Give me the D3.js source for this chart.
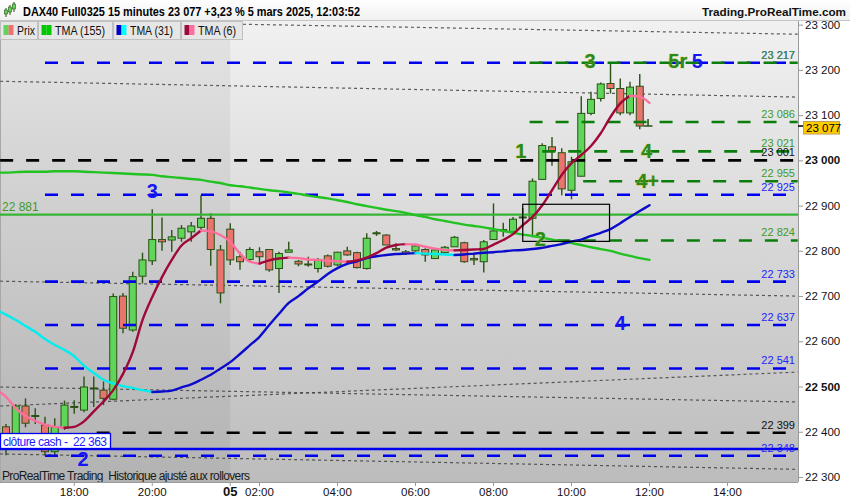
<!DOCTYPE html>
<html>
<head>
<meta charset="utf-8">
<script src="https://cdn.jsdelivr.net/npm/d3@7/dist/d3.min.js"></script>
<style>
  body { margin: 0; background: #fff; }
  svg { display: block; font-family: "Liberation Sans", Arial, sans-serif; }
</style>
</head>
<body>
<svg id="chart" width="850" height="500"></svg>
<script>
// --- données (15 min, index 0 = 4 mars 16:15) ---
const opens  = [22412,22382,22458,22437,22416,22357,22409,22457,22449,22497,22493,22473,22701,22626,22745,22779,22826,22825,22829,22843,22853,22873,22803,22849,22788,22782,22799,22804,22762,22798,22778,22772,22762,22790,22770,22801,22797,22762,22839,22836,22806,22799,22801,22804,22784,22797,22810,22819,22784,22777,22826,22846,22843,22874,22873,22959,23031,23018,22935,22966,23105,23138,23171,23160,23106,23165];
const highs  = [22418,22462,22475,22453,22434,22431,22470,22471,22523,22523,22512,22707,22708,22755,22797,22893,22875,22847,22858,22865,22924,22884,22814,22862,22799,22809,22809,22805,22799,22821,22781,22788,22785,22793,22799,22810,22799,22840,22845,22838,22818,22803,22814,22807,22805,22812,22834,22821,22797,22825,22906,22863,22876,22896,22961,23039,23053,23028,23009,23143,23153,23173,23217,23182,23175,23192];
const lows   = [22349,22375,22411,22418,22349,22350,22405,22441,22444,22456,22460,22471,22619,22622,22729,22770,22801,22799,22821,22821,22849,22768,22685,22770,22759,22779,22773,22755,22708,22798,22767,22766,22753,22764,22767,22790,22762,22760,22834,22814,22801,22792,22799,22777,22784,22795,22810,22775,22770,22753,22826,22832,22841,22854,22831,22958,22989,22924,22915,22966,23101,23131,23149,23101,23101,23070];
const closes = [22380,22458,22420,22436,22357,22412,22460,22455,22500,22498,22475,22700,22630,22744,22781,22826,22821,22832,22851,22856,22873,22804,22708,22781,22777,22804,22788,22759,22795,22803,22772,22771,22782,22767,22798,22792,22764,22829,22841,22814,22803,22795,22812,22792,22803,22809,22831,22777,22781,22821,22845,22848,22871,22876,22955,23034,23022,22938,22998,23105,23136,23170,23160,23106,23163,23077];

// moyennes mobiles, premier point = index -1
const maStart = -1;
const tma155 = [22974,22974,22975,22976,22976,22976,22977,22977,22977,22976,22975,22974,22973,22972,22971,22970,22969,22966,22964,22962,22960,22958,22954,22951,22946,22944,22941,22938,22935,22933,22930,22927,22923,22920,22917,22913,22909,22904,22900,22896,22892,22889,22885,22880,22876,22871,22867,22863,22859,22856,22853,22849,22845,22841,22837,22834,22830,22826,22822,22818,22814,22809,22805,22801,22795,22790,22785,22781];
const tma31  = [22671,22660,22648,22635,22622,22606,22593,22582,22568,22547,22531,22516,22508,22502,22498,22493,22489,22490,22492,22499,22506,22516,22527,22541,22555,22573,22592,22611,22637,22662,22686,22701,22718,22733,22750,22763,22772,22778,22785,22789,22792,22794,22795,22796,22795,22794,22793,22792,22793,22795,22797,22798,22800,22802,22803,22805,22808,22812,22816,22822,22826,22834,22841,22849,22862,22876,22889,22902];
const tma6   = [22494,22478,22453,22436,22425,22417,22412,22410,22412,22424,22446,22468,22493,22529,22577,22648,22699,22743,22781,22813,22829,22846,22844,22836,22821,22795,22777,22773,22780,22784,22786,22785,22782,22781,22779,22778,22777,22780,22786,22796,22808,22814,22816,22815,22810,22806,22803,22802,22803,22804,22805,22815,22825,22838,22858,22876,22902,22935,22969,22995,23013,23033,23061,23097,23127,23144,23142,23128];

// axe du temps
const timeTicks  = [7, 15, 23, 26, 34, 42, 50, 58, 66, 74];
const timeLabels = ["18:00","20:00","05","02:00","04:00","06:00","08:00","10:00","12:00","14:00"];
const sessionBreak = 23;

// axe des prix
const priceTicks = [22300,22400,22500,22600,22700,22800,22900,23000,23100,23200,23300];
const lastPrice = 23077;

// niveaux horizontaux
const blueLevels  = [23217, 22925, 22733, 22637, 22541, 22348];
const greenLevels = [23217, 23086, 23021, 22955, 22824];
const greenStarts = [53.7, 53.7, 55, 59.2, 56.5];
const blackLevels = [23001, 22399];
const blackStarts = [-0.6, 9.3];
const greenSolid = 22881;
const cashClose = 22363;

// lignes de tendance (index, prix)
const trendFromIdx   = [24.3, -0.6, -0.6, -0.6, -0.6, -0.6];
const trendFromPrice = [23302, 23176, 22734, 22458, 22500, 22352];
const trendToIdx     = [81.2, 81.2, 81.2, 81.2, 81.2, 81.2];
const trendToPrice   = [23280, 23141, 22701, 22533, 22467, 22318];

// annotations
const noteTexts  = ["3", "2", "4", "3", "5r", "5", "1", "4", "4+", "2"];
const noteIdx    = [15, 7.9, 63, 59.9, 68.9, 70.9, 52.8, 65.7, 65.8, 54.8];
const notePrices = [22933, 22341, 22642, 23221, 23221, 23221, 23022, 23022, 22955, 22828];
const noteKinds  = ["b", "b", "b", "g", "g", "b", "g", "g", "g", "g"];

// rectangle
const boxIdx = [53.0, 61.9];
const boxPrices = [22904, 22822];

// --- couleurs ---
const upFill = "#5fd65a", downFill = "#e9736d", candleLine = "#2b5215";
const blueC = "#0000f0", greenDash = "#0a7d0a", greenTxt = "#2a8a1c";

const svg = d3.select("#chart");
const fmt = v => d3.format(",")(v).replace(/,/g, " ");

const plot = { left: 0, right: 798, top: 21, bottom: 482 };
const x = d3.scaleLinear().domain([0, 80]).range([6, 786]);
const y = d3.scaleLinear().domain([22290, 23307]).range([482, 22]);

const defs = svg.append("defs");
const grad = defs.append("linearGradient").attr("id", "bg").attr("x1", 0).attr("y1", 0).attr("x2", 0).attr("y2", 1);
grad.append("stop").attr("offset", "0%").attr("stop-color", "#f1f1f1");
grad.append("stop").attr("offset", "100%").attr("stop-color", "#bcbcbc");
defs.append("clipPath").attr("id", "clip").append("rect")
  .attr("x", plot.left).attr("y", plot.top)
  .attr("width", plot.right - plot.left).attr("height", plot.bottom - plot.top);

// fond
svg.append("rect").attr("x", 0).attr("y", 0).attr("width", 850).attr("height", 500).attr("fill", "#fff");
svg.append("rect").attr("x", plot.left).attr("y", plot.top)
  .attr("width", plot.right - plot.left).attr("height", plot.bottom - plot.top)
  .attr("fill", "url(#bg)");
svg.append("rect").attr("x", plot.left).attr("y", plot.top)
  .attr("width", x(sessionBreak) - plot.left).attr("height", plot.bottom - plot.top)
  .attr("fill", "#000").attr("opacity", 0.05);
svg.append("line").attr("x1", 0.5).attr("x2", 0.5).attr("y1", plot.top).attr("y2", plot.bottom)
  .attr("stroke", "#a8a8a8");

const g = svg.append("g").attr("clip-path", "url(#clip)");

// lignes de tendance pointillées
g.selectAll(".trend").data(trendFromIdx).enter().append("line")
  .attr("x1", d => x(d)).attr("y1", (d, i) => y(trendFromPrice[i]))
  .attr("x2", (d, i) => x(trendToIdx[i])).attr("y2", (d, i) => y(trendToPrice[i]))
  .attr("stroke", "#3a3a3a").attr("stroke-width", 1.2).attr("stroke-dasharray", "3,3").attr("opacity", 0.8);

// bougies
const idx = d3.range(opens.length);
const candles = g.append("g");
candles.selectAll(".wick").data(idx).enter().append("line")
  .attr("x1", i => x(i)).attr("x2", i => x(i))
  .attr("y1", i => y(highs[i])).attr("y2", i => y(lows[i]))
  .attr("stroke", candleLine).attr("stroke-width", 1.4);
candles.selectAll(".body").data(idx).enter().append("rect")
  .attr("x", i => x(i) - 3.5).attr("width", 7)
  .attr("y", i => y(Math.max(opens[i], closes[i])))
  .attr("height", i => Math.max(1, Math.abs(y(opens[i]) - y(closes[i]))))
  .attr("fill", i => closes[i] >= opens[i] ? upFill : downFill)
  .attr("stroke", candleLine).attr("stroke-width", 1);

// niveaux
function level(p, from, to, color, dash, width) {
  g.append("line").attr("x1", x(from)).attr("x2", x(to)).attr("y1", y(p)).attr("y2", y(p))
    .attr("stroke", color).attr("stroke-width", width).attr("stroke-dasharray", dash);
}
level(greenSolid, -1, 82, "#35b535", null, 2.2);
blackLevels.forEach((p, i) => level(p, blackStarts[i], 81.2, "#000", "13,13", 2.6));
blueLevels.forEach(p => level(p, 4, 80.1, blueC, "13,13", 2.6));
greenLevels.forEach((p, i) => level(p, greenStarts[i], 81.2, greenDash, "13,13", 2.6));
level(cashClose, -1, 82, blueC, null, 2.6);

// moyennes mobiles
const maLine = d3.line().x(d => x(d[0])).y(d => y(d[1])).curve(d3.curveMonotoneX);
function drawMA(vals, upColor, downColor) {
  const runs = [];
  let cur = null;
  for (let k = 1; k < vals.length; k++) {
    const c = vals[k] >= vals[k - 1] ? upColor : downColor;
    if (!cur || cur.color !== c) {
      cur = { color: c, pts: [[maStart + k - 1, vals[k - 1]]] };
      runs.push(cur);
    }
    cur.pts.push([maStart + k, vals[k]]);
  }
  runs.forEach(r => g.append("path").attr("d", maLine(r.pts)).attr("fill", "none")
    .attr("stroke", r.color).attr("stroke-width", 2.4).attr("stroke-linecap", "round"));
}
drawMA(tma155, "#22c222", "#22c222");
drawMA(tma31, "#0b0bcc", "#00eeee");
drawMA(tma6, "#a0083a", "#ff6f9e");

// rectangle
g.append("rect").attr("x", x(boxIdx[0])).attr("y", y(boxPrices[0]))
  .attr("width", x(boxIdx[1]) - x(boxIdx[0])).attr("height", y(boxPrices[1]) - y(boxPrices[0]))
  .attr("fill", "none").attr("stroke", "#000").attr("stroke-width", 1.2);

// marque de clôture
const li = opens.length - 1;
g.append("path")
  .attr("d", `M${x(li) + 4},${y(lastPrice)}H${x(li + 1) + 3}M${x(li + 0.85)},${y(lastPrice) - 7}V${y(lastPrice)}`)
  .attr("stroke", candleLine).attr("stroke-width", 1.6).attr("fill", "none");

// annotations
g.selectAll(".note").data(noteTexts).enter().append("text")
  .attr("x", (d, i) => x(noteIdx[i])).attr("y", (d, i) => y(notePrices[i]))
  .attr("text-anchor", "middle").attr("dominant-baseline", "central")
  .attr("font-size", 20).attr("font-weight", "bold")
  .attr("fill", (d, i) => noteKinds[i] === "b" ? "#1616f5" : greenTxt)
  .attr("stroke", (d, i) => noteKinds[i] === "b" ? "none" : "#c9c23a")
  .attr("stroke-width", 0.6).attr("paint-order", "stroke")
  .text(d => d);

// étiquettes de niveaux à droite
function levelLabel(p, color) {
  svg.append("text").attr("x", 795).attr("y", y(p) - 4).attr("text-anchor", "end")
    .attr("font-size", 11).attr("fill", color).text(fmt(p));
}
blueLevels.forEach(p => levelLabel(p, "#2323ff"));
greenLevels.forEach(p => levelLabel(p, "#3f9a2a"));
blackLevels.forEach(p => levelLabel(p, "#111"));

// étiquette clôture cash
svg.append("rect").attr("x", 0.5).attr("y", 433.5).attr("width", 110).attr("height", 15)
  .attr("fill", "#fff").attr("stroke", blueC).attr("stroke-width", 1.3);
svg.append("text").attr("x", 3).attr("y", 445.5).attr("font-size", 12).attr("fill", "#1a1aff")
  .attr("textLength", 104).attr("lengthAdjust", "spacing").style("white-space", "pre")
  .text("clôture cash -  " + fmt(cashClose));

// étiquette 22 881
svg.append("text").attr("x", 2).attr("y", y(greenSolid) - 4).attr("font-size", 12)
  .attr("fill", "#3f9a2a").text(fmt(greenSolid));

svg.append("text").attr("x", 2).attr("y", 480).attr("font-size", 12).attr("fill", "#1a1a1a")
  .attr("textLength", 248).style("white-space", "pre")
  .text("ProRealTime Trading  Historique ajusté aux rollovers");

// axe des prix (droite)
svg.append("rect").attr("x", plot.right).attr("y", plot.top).attr("width", 52).attr("height", plot.bottom - plot.top).attr("fill", "#fff");
svg.append("line").attr("x1", plot.right + 0.5).attr("x2", plot.right + 0.5).attr("y1", plot.top).attr("y2", plot.bottom)
  .attr("stroke", "#9a9a9a");
const yAxis = svg.append("g");
priceTicks.forEach(p => {
  yAxis.append("line").attr("x1", plot.right).attr("x2", plot.right + 5).attr("y1", y(p)).attr("y2", y(p))
    .attr("stroke", "#9a9a9a");
  yAxis.append("text").attr("x", 805).attr("y", y(p) - 0.5).attr("dominant-baseline", "central")
    .attr("font-size", 11.5).attr("fill", "#111")
    .attr("font-weight", p % 500 === 0 ? "bold" : "normal").text(fmt(p));
});
svg.append("line").attr("x1", plot.right).attr("x2", plot.right + 5).attr("y1", y(lastPrice)).attr("y2", y(lastPrice))
  .attr("stroke", "#000").attr("stroke-width", 1.5);
svg.append("rect").attr("x", 803.5).attr("y", y(lastPrice) - 4.5).attr("width", 36).attr("height", 12.5)
  .attr("fill", "#ffcc00").attr("stroke", "#b8a060");
svg.append("text").attr("x", 806).attr("y", y(lastPrice) + 2).attr("dominant-baseline", "central")
  .attr("font-size", 11.5).attr("fill", "#000").text(fmt(lastPrice));

// axe du temps
svg.append("rect").attr("x", 0).attr("y", plot.bottom).attr("width", 850).attr("height", 18).attr("fill", "#fff");
svg.append("line").attr("x1", 0).attr("x2", plot.right).attr("y1", plot.bottom + 0.5).attr("y2", plot.bottom + 0.5)
  .attr("stroke", "#9a9a9a");
timeTicks.forEach((t, i) => {
  const bold = timeLabels[i] === "05";
  svg.append("line").attr("x1", x(t)).attr("x2", x(t)).attr("y1", plot.bottom).attr("y2", plot.bottom + 4)
    .attr("stroke", "#9a9a9a");
  svg.append("text").attr("x", x(t)).attr("y", 496).attr("text-anchor", "middle")
    .attr("font-size", bold ? 13 : 11.5).attr("fill", "#111")
    .attr("font-weight", bold ? "bold" : "normal")
    .text(timeLabels[i]);
});

// en-tête
const hg = defs.append("linearGradient").attr("id", "hdr").attr("x1", 0).attr("y1", 0).attr("x2", 0).attr("y2", 1);
hg.append("stop").attr("offset", "0%").attr("stop-color", "#ffffff");
hg.append("stop").attr("offset", "100%").attr("stop-color", "#f0f0f0");
svg.append("rect").attr("x", 0).attr("y", 0).attr("width", 850).attr("height", 21).attr("fill", "url(#hdr)");
svg.append("line").attr("x1", 0).attr("x2", 850).attr("y1", 20.5).attr("y2", 20.5).attr("stroke", "#c4c4c4");
// icône
[[6, 9, 15], [10, 6, 13], [14, 3, 10]].forEach(c => {
  svg.append("line").attr("x1", c[0]).attr("x2", c[0]).attr("y1", c[1] - 1).attr("y2", c[2] + 2).attr("stroke", "#2b5215");
  svg.append("rect").attr("x", c[0] - 1.5).attr("y", c[1] + 1).attr("width", 3).attr("height", c[2] - c[1] - 2)
    .attr("fill", upFill).attr("stroke", "#2b5215").attr("stroke-width", 0.6);
});
svg.append("text").attr("x", 23).attr("y", 16).attr("font-size", 13).attr("font-weight", "bold").attr("fill", "#000")
  .attr("textLength", 337).attr("lengthAdjust", "spacingAndGlyphs")
  .text("DAX40 Full0325 15 minutes 23 077 +3,23 % 5 mars 2025, 12:03:52");
svg.append("text").attr("x", 846).attr("y", 16).attr("text-anchor", "end").attr("font-size", 11.7)
  .attr("font-weight", "bold").attr("fill", "#111").text("Trading.ProRealTime.com");

// légende
const legendNames = ["Prix", "TMA (155)", "TMA (31)", "TMA (6)"];
const legendBoxes = [[0, 37], [38, 112], [113, 180], [181, 242]];
const legendTextW = [18, 50, 43, 38];
const legendColors = [[upFill, downFill], ["#00c800", "#00c800"], ["#0000cc", "#00ffff"], ["#9a0a3a", "#ff6f9e"]];
legendNames.forEach((n, i) => {
  const b = legendBoxes[i];
  svg.append("rect").attr("x", b[0] + 0.5).attr("y", 21.5).attr("width", b[1] - b[0]).attr("height", 18)
    .attr("fill", "#e6e6e6").attr("stroke", "#c0c0c0");
  svg.append("rect").attr("x", b[0] + 3.5).attr("y", 25).attr("width", 5).attr("height", 10).attr("fill", legendColors[i][0]);
  svg.append("rect").attr("x", b[0] + 8.5).attr("y", 25).attr("width", 5).attr("height", 10).attr("fill", legendColors[i][1]);
  svg.append("text").attr("x", b[0] + 17).attr("y", 35).attr("font-size", 13).attr("fill", "#111")
    .attr("textLength", legendTextW[i]).attr("lengthAdjust", "spacingAndGlyphs").text(n);
});
</script>
</body>
</html>
